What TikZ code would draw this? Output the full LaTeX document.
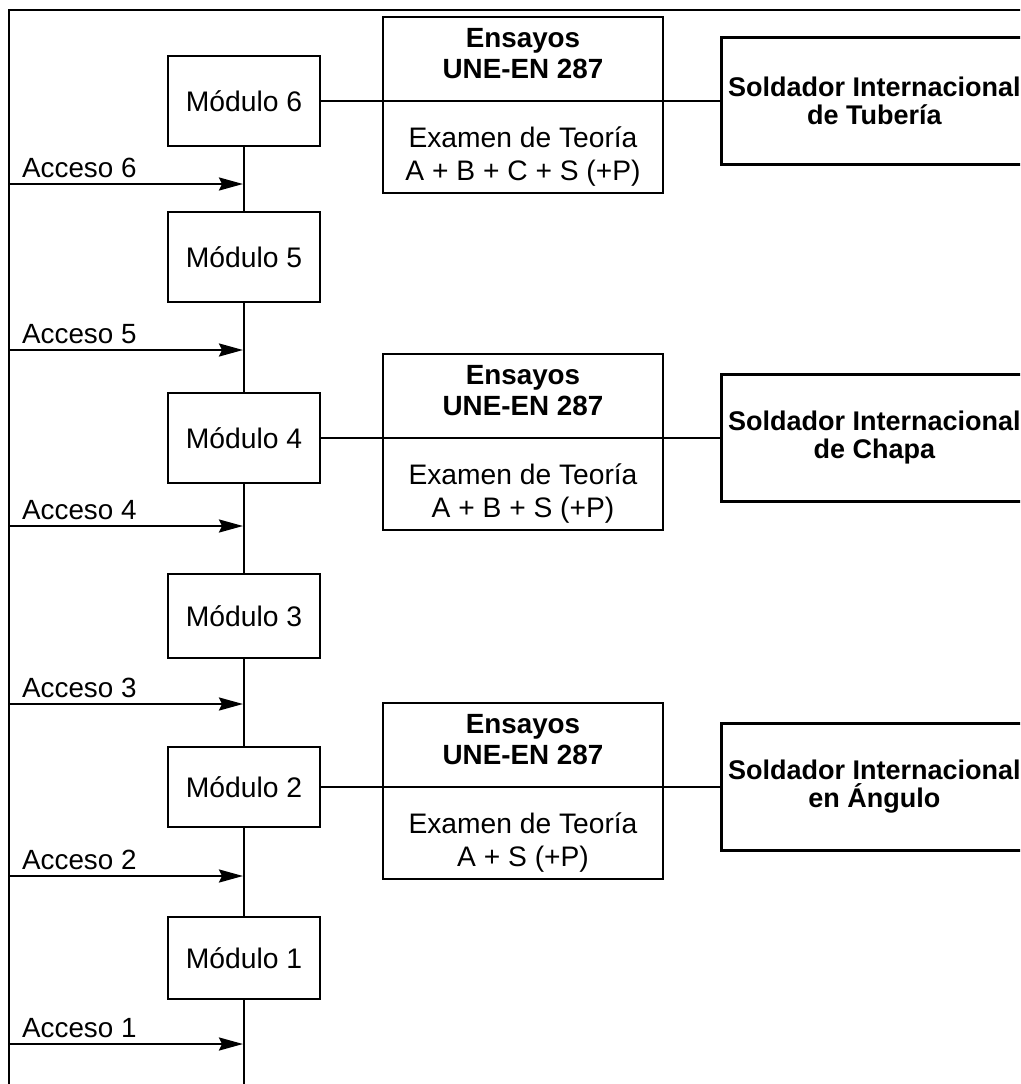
\documentclass[tikz,border=0pt]{standalone}
\usepackage{fontspec}
\setmainfont{Liberation Sans}
\usetikzlibrary{arrows.meta}
\begin{document}
\begin{tikzpicture}[x=1pt,y=-1pt,
  modbox/.style={draw, line width=1.4pt, minimum width=152pt, inner sep=0pt,
    font=\fontsize{28.3}{31}\selectfont},
  testbox/.style={draw, line width=2.7pt, minimum width=280pt, minimum height=176pt, inner sep=0pt},
  testhead/.style={align=center, inner sep=0pt, font=\bfseries\fontsize{27.8}{31}\selectfont},
  testbody/.style={align=center, inner sep=0pt, font=\fontsize{28.2}{33}\selectfont},
  certbox/.style={draw, line width=2.7pt, minimum width=306pt, minimum height=127pt,
    anchor=west, align=center, inner sep=0pt, font=\bfseries\fontsize{27}{28}\selectfont},
  link/.style={line width=2.6pt},
  access/.style={line width=2.3pt, -{Stealth[length=24pt,width=13pt,inset=3pt]}},
  accesslabel/.style={anchor=base west, inner sep=0pt, font=\fontsize{27.8}{31}\selectfont},
]
\useasboundingbox (0,0) rectangle (1020,1084);
\clip (0,0) rectangle (1020,1084);

% outer frame (top and left sides)
\coordinate (frameTR) at (1030,10);
\coordinate (frameTL) at (9,10);
\coordinate (frameBL) at (9,1090);
\draw[link] (frameTR) -- (frameTL) -- (frameBL);

% modules
\node[modbox, minimum height=90pt] (m6) at (244,101) {Módulo 6};
\node[modbox, minimum height=90pt] (m5) at (244,257) {Módulo 5};
\node[modbox, minimum height=90pt] (m4) at (244,438) {Módulo 4};
\node[modbox, minimum height=84pt] (m3) at (244,616) {Módulo 3};
\node[modbox, minimum height=80pt] (m2) at (244,787) {Módulo 2};
\node[modbox, minimum height=82pt] (m1) at (244,958) {Módulo 1};

% spine joining the modules
\coordinate (spineEnd) at (244,1090);
\draw[link] (m6.south) -- (m5.north)
            (m5.south) -- (m4.north)
            (m4.south) -- (m3.north)
            (m3.south) -- (m2.north)
            (m2.south) -- (m1.north)
            (m1.south) -- (spineEnd);

% access arrows from the frame to the spine
\foreach \k/\yy in {6/184, 5/350, 4/526, 3/704, 2/876, 1/1044} {
  \coordinate (from\k) at (9,\yy);
  \coordinate (to\k) at (243,\yy);
  \draw[access] (from\k) -- (to\k);
  \node[accesslabel] (lab\k) at (22,\yy-7) {Acceso \k};
}

% test blocks
\node[testbox] (e6) at (523,105) {};
\node[testhead] (e6h) at (523,54) {Ensayos\\UNE-EN 287};
\node[testbody] (e6b) at (523,157) {Examen de Teoría\\A + B + C + S (+P)};

\node[testbox] (e4) at (523,442) {};
\node[testhead] (e4h) at (523,391) {Ensayos\\UNE-EN 287};
\node[testbody] (e4b) at (523,494) {Examen de Teoría\\A + B + S (+P)};

\node[testbox] (e2) at (523,791) {};
\node[testhead] (e2h) at (523,740) {Ensayos\\UNE-EN 287};
\node[testbody] (e2b) at (523,843) {Examen de Teoría\\A + S (+P)};

% qualifications
\node[certbox] (s6) at (720,101) {Soldador Internacional\\de Tubería};
\node[certbox] (s4) at (720,438) {Soldador Internacional\\de Chapa};
\node[certbox] (s2) at (720,787) {Soldador Internacional\\en Ángulo};

% module -> qualification links (they cross the test blocks)
\draw[link] (m6.east) -- (s6.west);
\draw[link] (m4.east) -- (s4.west);
\draw[link] (m2.east) -- (s2.west);
\end{tikzpicture}
\end{document}
